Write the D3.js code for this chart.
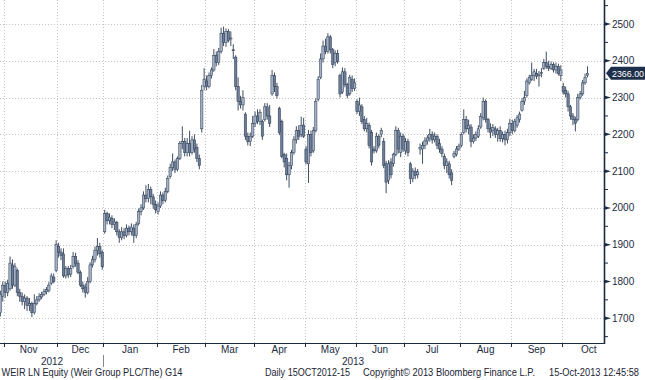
<!DOCTYPE html>
<html><head><meta charset="utf-8">
<script src="https://cdn.jsdelivr.net/npm/d3@7"></script>
<style>body{margin:0;background:#fff}svg{display:block}</style>
</head><body><svg id="c" width="645" height="380"></svg>
<script>
// ---- data (trading-day index from 30 Oct 2012 to 15 Oct 2013) ----
const monthNames = ["Nov","Dec","Jan","Feb","Mar","Apr","May","Jun","Jul","Aug","Sep","Oct"];
const monthStart = [2,24,43,65,85,105,126,147,167,190,211,232,254];
const yearLabels = ["2012","2013"];
const yTicks = [1700,1800,1900,2000,2100,2200,2300,2400,2500];
const yMinorTicks = [1650,1750,1850,1950,2050,2150,2250,2350,2450,2550];
const lastPrice = 2366.00;

const open = [1715,1760,1790,1770,1780,1845,1790,1830,1770,1760,1745,1755,1735,1740,1715,1740,1750,1758,1765,1772,1775,1795,1812,1830,
1895,1880,1875,1815,1835,1820,1840,1868,1850,1825,1790,1785,1770,1800,1845,1860,1885,1895,1880,
1935,1985,1965,1972,1955,1960,1935,1920,1935,1925,1945,1935,1945,1925,1958,1990,2000,2035,2025,2050,2030,2010,
1990,2005,2035,2020,2045,2085,2110,2125,2105,2135,2175,2180,2150,2175,2150,2185,2165,2135,2215,2330,
2345,2330,2360,2375,2415,2395,2425,2475,2450,2480,2460,2430,2410,2330,2290,2280,2255,2195,2180,2195,
2230,2250,2235,2235,2240,2275,2250,2310,2360,2330,2270,2235,2145,2135,2090,2115,2150,2185,2210,2200,2225,
2160,2120,2200,2155,2210,2295,2355,2405,2440,2425,2465,2430,2395,2420,2360,2315,2370,2335,2310,2350,2325,
2290,2262,2275,2240,2215,2225,2205,2160,2155,2195,2200,2180,2120,2075,2125,2120,2145,2210,2150,2195,
2155,2180,2120,2080,2100,2090,2160,2160,2170,2182,2190,2200,2185,2195,2175,2160,2140,2115,2120,2095,2140,2145,2160,
2170,2205,2240,2215,2220,2180,2190,2195,2220,2245,2290,2240,2215,2210,2215,2200,2210,2188,2200,2185,2205,
2230,2210,2225,2240,2265,2290,2305,2340,2350,2360,2365,2360,2365,2380,2395,2385,2380,2390,2375,2385,2360,
2330,2320,2310,2275,2250,2240,2240,2300,2310,2340,2360];

const high = [1775,1800,1800,1805,1868,1860,1850,1835,1780,1770,1765,1760,1755,1745,1765,1760,1768,1772,1780,1785,1798,1822,1822,1912,
1905,1890,1890,1842,1842,1845,1880,1878,1858,1830,1800,1795,1812,1852,1870,1895,1918,1905,1885,
1995,1990,1985,1980,1972,1965,1942,1948,1945,1955,1952,1958,1955,1962,1998,2010,2045,2062,2065,2058,2038,2020,
2015,2045,2042,2055,2088,2120,2148,2132,2140,2182,2222,2190,2190,2210,2195,2200,2175,2145,2334,2380,
2360,2368,2382,2432,2425,2435,2490,2493,2488,2486,2480,2445,2415,2355,2305,2320,2260,2205,2205,2250,
2262,2268,2268,2240,2285,2285,2280,2375,2368,2340,2275,2240,2150,2148,2125,2158,2195,2222,2225,2248,2245,
2168,2212,2210,2220,2298,2358,2420,2455,2460,2475,2470,2435,2428,2430,2365,2382,2380,2340,2362,2360,2352,
2295,2300,2282,2250,2245,2232,2212,2168,2205,2200,2218,2190,2128,2130,2135,2150,2222,2218,2205,2202,
2190,2188,2125,2108,2110,2106,2175,2180,2192,2198,2215,2208,2205,2200,2188,2168,2148,2135,2128,2105,2155,2168,2175,
2205,2268,2250,2240,2228,2200,2208,2225,2258,2300,2295,2245,2230,2228,2222,2218,2222,2208,2210,2215,2242,
2240,2242,2252,2262,2298,2318,2352,2362,2395,2378,2378,2372,2380,2405,2425,2400,2398,2396,2395,2392,2388,
2340,2330,2318,2280,2258,2248,2310,2318,2348,2365,2385];

const low = [1705,1745,1755,1760,1775,1780,1785,1760,1745,1735,1725,1720,1720,1703,1710,1735,1745,1752,1760,1765,1770,1790,1795,1825,
1865,1858,1810,1808,1810,1812,1835,1840,1820,1785,1770,1756,1765,1795,1838,1852,1870,1865,1832,
1930,1955,1955,1945,1940,1925,1905,1912,1915,1920,1925,1925,1905,1918,1952,1980,1995,2015,2015,2010,1998,1985,
1982,2000,2010,2015,2040,2080,2100,2095,2100,2130,2160,2140,2140,2140,2145,2150,2125,2105,2205,2320,
2320,2325,2352,2370,2385,2388,2420,2440,2438,2450,2440,2405,2320,2265,2270,2265,2185,2170,2168,2190,
2220,2228,2225,2185,2235,2240,2220,2305,2315,2298,2198,2135,2110,2075,2055,2105,2145,2175,2185,2192,2190,
2118,2068,2140,2150,2205,2290,2350,2395,2418,2420,2420,2380,2385,2392,2300,2310,2328,2298,2305,2315,2318,
2255,2250,2228,2208,2205,2162,2115,2148,2150,2162,2192,2108,2040,2065,2080,2112,2140,2148,2138,2152,
2145,2140,2065,2070,2078,2080,2145,2120,2160,2172,2180,2175,2178,2160,2150,2138,2105,2095,2080,2062,2135,2140,2155,
2165,2200,2205,2200,2165,2175,2182,2190,2215,2238,2232,2205,2190,2195,2190,2180,2180,2178,2170,2175,2195,
2200,2205,2218,2232,2262,2280,2300,2335,2345,2345,2350,2330,2355,2375,2378,2372,2375,2368,2365,2360,2345,
2308,2300,2262,2240,2225,2208,2235,2295,2305,2335,2355];

const close = [1765,1790,1770,1795,1850,1790,1840,1770,1760,1745,1755,1735,1740,1715,1740,1750,1760,1765,1772,1778,1790,1815,1800,1900,
1880,1870,1815,1835,1818,1835,1868,1850,1825,1790,1780,1770,1800,1845,1860,1885,1895,1875,1840,
1985,1965,1975,1955,1962,1935,1920,1935,1925,1945,1935,1948,1925,1955,1990,2000,2035,2025,2050,2030,2010,1995,
2005,2035,2020,2045,2080,2110,2125,2105,2135,2175,2180,2150,2175,2150,2185,2160,2135,2115,2320,2350,
2330,2360,2375,2415,2395,2425,2475,2450,2480,2455,2462,2428,2330,2290,2280,2300,2195,2180,2195,2230,
2250,2235,2260,2195,2275,2250,2230,2360,2330,2305,2205,2140,2125,2090,2115,2150,2185,2210,2195,2225,2195,
2125,2200,2150,2210,2290,2350,2405,2440,2425,2465,2430,2390,2420,2398,2310,2370,2335,2305,2355,2325,2340,
2262,2280,2235,2215,2230,2170,2125,2155,2195,2170,2210,2115,2070,2120,2090,2145,2210,2160,2195,2160,
2180,2150,2080,2100,2088,2098,2165,2170,2182,2190,2200,2185,2195,2170,2160,2148,2115,2125,2090,2075,2148,2160,2168,
2200,2240,2215,2225,2180,2190,2200,2215,2248,2290,2240,2215,2205,2218,2200,2210,2188,2200,2185,2205,2230,
2210,2235,2245,2255,2290,2300,2345,2355,2360,2370,2358,2362,2368,2395,2385,2380,2390,2375,2385,2365,2375,
2315,2310,2275,2250,2240,2230,2300,2310,2340,2355,2366];

// ---- layout ----
const W = 645, H = 380;
const plot = {left: 0, right: 604, top: 0, bottom: 343};
const navy = "#1b2b42";
const wick = "#2a3a52";
const font2 = "'Liberation Sans',Arial,sans-serif";

const svg = d3.select("#c");
svg.append("rect").attr("width", W).attr("height", H).attr("fill", "#fff");

const x = d3.scaleLinear().domain([-0.144, 248.8]).range([plot.left, plot.right]);
const y = d3.scaleLinear().domain([1632.7, 2565.3]).range([plot.bottom, plot.top]);

svg.append("defs").append("clipPath").attr("id", "clip")
  .append("rect").attr("x", plot.left).attr("y", plot.top)
  .attr("width", plot.right - plot.left).attr("height", plot.bottom - plot.top);

// grid
const grid = svg.append("g").attr("stroke", "#c4c4c4").attr("stroke-width", 1).attr("stroke-dasharray", "1,2");
grid.selectAll("line.h").data(yTicks).join("line")
  .attr("x1", plot.left).attr("x2", plot.right)
  .attr("y1", d => Math.round(y(d)) + 0.5).attr("y2", d => Math.round(y(d)) + 0.5);
grid.selectAll("line.v").data(monthStart.slice(0, 12)).join("line")
  .attr("y1", plot.top).attr("y2", plot.bottom)
  .attr("x1", d => Math.round(x(d - 0.5)) + 0.5).attr("x2", d => Math.round(x(d - 0.5)) + 0.5);

// candles
const idx = d3.range(close.length);
const cg = svg.append("g").attr("clip-path", "url(#clip)");
cg.selectAll("line.w").data(idx).join("line")
  .attr("x1", i => x(i)).attr("x2", i => x(i))
  .attr("y1", i => y(high[i])).attr("y2", i => y(low[i]))
  .attr("stroke", wick).attr("stroke-width", 0.9);
cg.selectAll("rect.b").data(idx).join("rect")
  .attr("x", i => x(i) - 1.2).attr("width", 2.4)
  .attr("y", i => y(Math.max(open[i], close[i])))
  .attr("height", i => Math.max(1, Math.abs(y(open[i]) - y(close[i]))))
  .attr("fill", i => close[i] >= open[i] ? "#a3b0c3" : "#6d7d95")
  .attr("stroke", wick).attr("stroke-width", 0.5);

// right axis
const ax = svg.append("g");
ax.append("line").attr("x1", plot.right + 0.5).attr("x2", plot.right + 0.5)
  .attr("y1", 0).attr("y2", plot.bottom + 1).attr("stroke", navy).attr("stroke-width", 1.6);
ax.selectAll("path.t").data(yTicks).join("path")
  .attr("d", d => { const yy = y(d); return `M${plot.right},${yy - 2}L${plot.right + 7},${yy}L${plot.right},${yy + 2}Z`; })
  .attr("fill", navy);
ax.selectAll("line.m").data(yMinorTicks).join("line")
  .attr("x1", plot.right).attr("x2", plot.right + 4)
  .attr("y1", d => y(d)).attr("y2", d => y(d)).attr("stroke", navy).attr("stroke-width", 1);
ax.selectAll("text.yl").data(yTicks).join("text")
  .attr("x", plot.right + 8).attr("y", d => y(d)).attr("dy", "0.35em")
  .attr("font-family", font2).attr("font-size", 10).attr("fill", navy)
  .text(d => d);

// last price tag
const ly = y(lastPrice);
svg.append("path")
  .attr("d", `M${plot.right + 2},${ly}L${plot.right + 7},${ly - 6.5}L${W},${ly - 6.5}L${W},${ly + 6.5}L${plot.right + 7},${ly + 6.5}Z`)
  .attr("fill", "#1d2f4a");
svg.append("text").attr("x", plot.right + 8).attr("y", ly).attr("dy", "0.36em")
  .attr("textLength", 32).attr("lengthAdjust", "spacingAndGlyphs")
  .attr("font-family", font2).attr("font-size", 9.5).attr("fill", "#fff")
  .text(lastPrice.toFixed(2));

// bottom axis
svg.append("line").attr("x1", 0).attr("x2", plot.right + 1)
  .attr("y1", plot.bottom + 0.5).attr("y2", plot.bottom + 0.5).attr("stroke", navy).attr("stroke-width", 1.2);
svg.selectAll("line.xt").data(monthStart.slice(0, 12)).join("line")
  .attr("x1", d => Math.round(x(d - 0.5)) + 0.5).attr("x2", d => Math.round(x(d - 0.5)) + 0.5)
  .attr("y1", plot.bottom).attr("y2", plot.bottom + 4).attr("stroke", navy).attr("stroke-width", 1);
svg.selectAll("text.ml").data(monthNames).join("text")
  .attr("x", (d, k) => x((monthStart[k] + monthStart[k + 1]) / 2 - 0.5) - (k === 0 ? 2 : 0))
  .attr("y", 353).attr("text-anchor", "middle")
  .attr("font-family", font2).attr("font-size", 10).attr("fill", navy)
  .text(d => d);
// years
svg.append("text").attr("x", 52).attr("y", 365).attr("text-anchor", "middle")
  .attr("font-family", font2).attr("font-size", 10).attr("fill", navy).text(yearLabels[0]);
svg.append("text").attr("x", 353).attr("y", 365).attr("text-anchor", "middle")
  .attr("font-family", font2).attr("font-size", 10).attr("fill", navy).text(yearLabels[1]);
svg.append("line").attr("x1", Math.round(x(monthStart[2] - 0.5)) + 0.5).attr("x2", Math.round(x(monthStart[2] - 0.5)) + 0.5)
  .attr("y1", 355).attr("y2", 367).attr("stroke", "#888").attr("stroke-width", 1);

// footer
const foot = [
  {t: "WEIR LN Equity (Weir Group PLC/The) G14", x: 1.5, w: 181},
  {t: "Daily 15OCT2012-15", x: 265, w: 85},
  {t: "Copyright\u00A9 2013 Bloomberg Finance L.P.", x: 363, w: 172},
  {t: "15-Oct-2013 12:45:58", x: 549, w: 90}
];
svg.selectAll("text.f").data(foot).join("text")
  .attr("x", d => d.x).attr("y", 376)
  .attr("textLength", d => d.w).attr("lengthAdjust", "spacingAndGlyphs")
  .attr("font-family", font2).attr("font-size", 10).attr("fill", "#1c2433")
  .text(d => d.t);
</script></body></html>
